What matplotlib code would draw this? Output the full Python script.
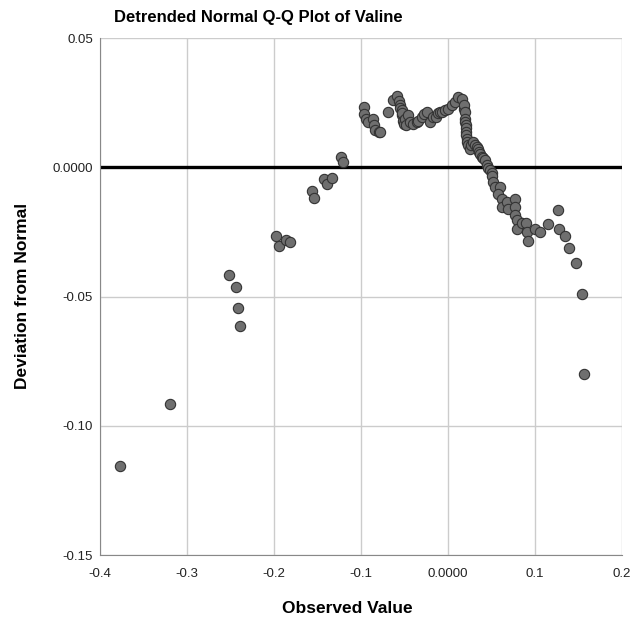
import matplotlib
matplotlib.use("Agg")
import matplotlib.pyplot as plt
import numpy as np

plt.rcParams['font.family'] = ['Liberation Sans', 'DejaVu Sans']

obs_x = [-0.377, -0.3195, -0.2517, -0.2437, -0.2414, -0.239,
         -0.197, -0.194, -0.186, -0.181,
         -0.1563, -0.154, -0.1425, -0.1394, -0.1333, -0.1226, -0.121,
         -0.0966, -0.0966, -0.094, -0.092, -0.0866, -0.0846, -0.0834, -0.0789, -0.078,
         -0.0686, -0.0628, -0.0583, -0.056, -0.0552, -0.0545, -0.0532, -0.0532, -0.0525,
         -0.052, -0.0506, -0.049, -0.048,
         -0.0456, -0.0437, -0.0398, -0.036, -0.034, -0.0303, -0.028, -0.0245, -0.0207,
         -0.0169, -0.014, -0.0111, -0.009, -0.0073, -0.0034, 0.0003, 0.0042, 0.008,
         0.0119, 0.0157, 0.018, 0.0184, 0.0195, 0.0195, 0.0199, 0.0203, 0.0205, 0.0207,
         0.021, 0.0215, 0.0222, 0.0233, 0.0253, 0.027,
         0.0291, 0.031, 0.033, 0.0345, 0.036, 0.0373, 0.0387, 0.04, 0.0425, 0.0445,
         0.0465, 0.0483, 0.0502, 0.0508,
         0.0521, 0.054, 0.0598, 0.0578, 0.0617, 0.0617, 0.0675, 0.0693,
         0.077, 0.077, 0.077, 0.0789, 0.0789, 0.0847, 0.0897, 0.0904, 0.0916,
         0.1, 0.1057, 0.1153, 0.1268, 0.1276, 0.1345, 0.1391, 0.1471, 0.1537, 0.1563]
deviation = [-0.1157, -0.0917, -0.0418, -0.0464, -0.0545, -0.0615,
             -0.0264, -0.0303, -0.0282, -0.0289,
             -0.0092, -0.0117, -0.0045, -0.0066, -0.004, 0.0038, 0.0019,
             0.0232, 0.0206, 0.0187, 0.0175, 0.0185, 0.0163, 0.0145, 0.0137, 0.0136,
             0.0212, 0.0259, 0.0275, 0.0256, 0.024, 0.023, 0.022, 0.0201, 0.021,
             0.018, 0.0169, 0.0185, 0.0165,
             0.0201, 0.0175, 0.0169, 0.0175, 0.018, 0.0195, 0.0205, 0.0212, 0.0175,
             0.0195, 0.0195, 0.0208, 0.0212, 0.0214, 0.022, 0.0227, 0.024, 0.0253,
             0.0272, 0.0266, 0.0227, 0.024, 0.0214, 0.0188, 0.0175, 0.0162, 0.015, 0.0137,
             0.0124, 0.0111, 0.0098, 0.0085, 0.0072, 0.0085,
             0.0098, 0.0088, 0.0079, 0.0069, 0.0059, 0.005, 0.004, 0.0035, 0.0027, 0.0008,
             -0.0002, -0.0012, -0.0024, -0.0035,
             -0.0057, -0.0076, -0.0076, -0.0102, -0.0121, -0.0154, -0.0134, -0.016,
             -0.0121, -0.0154, -0.0186, -0.0205, -0.0237, -0.0215, -0.0215, -0.025, -0.0285,
             -0.0237, -0.025, -0.0218, -0.0164, -0.0237, -0.0266, -0.0312, -0.0369, -0.0492, -0.0801]

x_ticks = [-0.4, -0.3, -0.2, -0.1, 0.0, 0.1, 0.2]
x_ticklabels = ['-0.4', '-0.3', '-0.2', '-0.1', '0.0000', '0.1', '0.2']
y_ticks = [-0.15, -0.10, -0.05, 0.0, 0.05]
y_ticklabels = ['-0.15', '-0.10', '-0.05', '0.0000', '0.05']

fig = plt.figure(figsize=(6.32, 6.23), dpi=100)
ax = fig.add_axes([0.158, 0.109, 0.826, 0.830])

ax.grid(True, color='#cccccc', linewidth=1)
ax.set_axisbelow(True)
ax.axhline(0, color='black', linewidth=2.4, zorder=2)
ax.scatter(obs_x, deviation, s=55, facecolor='#6f6f6f', edgecolor='#333333',
           linewidth=0.8, zorder=3)

ax.set_xlim(-0.4, 0.2)
ax.set_ylim(-0.15, 0.05)
ax.set_xticks(x_ticks)
ax.set_xticklabels(x_ticklabels)
ax.set_yticks(y_ticks)
ax.set_yticklabels(y_ticklabels)
ax.tick_params(length=0, labelsize=9.5, colors='#222222')
ax.tick_params(axis='x', pad=9.5)
ax.tick_params(axis='y', pad=5)

for s in ['top', 'right']:
    ax.spines[s].set_visible(False)
for s in ['left', 'bottom']:
    ax.spines[s].set_color('#888888')

fig.text(0.408, 0.972, 'Detrended Normal Q-Q Plot of Valine', ha='center', va='center',
         fontsize=12, fontweight='bold')
fig.text(0.549, 0.024, 'Observed Value', ha='center', va='center',
         fontsize=12.5, fontweight='bold')
fig.text(0.035, 0.525, 'Deviation from Normal', ha='center', va='center',
         rotation=90, fontsize=12.5, fontweight='bold')

fig.savefig('out.png', dpi=100)
